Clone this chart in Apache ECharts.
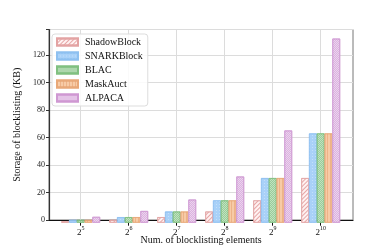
<!DOCTYPE html>
<html><head><meta charset="utf-8">
<script src="https://cdn.jsdelivr.net/npm/echarts@6/dist/echarts.min.js"></script>
<style>html,body{margin:0;padding:0;background:#fff}#c{width:392px;height:250px}</style>
</head><body><div id="c"></div>
<script>
const exponents = [5, 6, 7, 8, 9, 10];
const shadowBlock = [1, 2, 4, 8, 16, 32];
const snarkBlock = [2, 4, 8, 16, 32, 64];
const blac = [2, 4, 8, 16, 32, 64];
const maskAuct = [2, 4, 8, 16, 32, 64];
const alpaca = [4.2, 8.4, 16.6, 33.1, 66.1, 132];
const yTicks = [0, 20, 40, 60, 80, 100, 120];
const seriesNames = ['ShadowBlock', 'SNARKBlock', 'BLAC', 'MaskAuct', 'ALPACA'];
const seriesData = [shadowBlock, snarkBlock, blac, maskAuct, alpaca];

const FONT = 'Liberation Serif';
const YMAX = 138.5;
const TOP = 29.5, BOTTOM = 27.3;

const styles = [
  {color: '#fff2f2', borderColor: '#e3a3a3',
   decal: {symbol: 'rect', color: '#e6a6a6', dashArrayX: [1, 0], dashArrayY: [1, 2], rotation: -Math.PI / 4}},
  {color: '#a9d1f8', borderColor: '#8ec0f0',
   decal: {symbol: 'rect', color: 'rgba(255,255,255,0.3)', dashArrayX: [1, 1.5], dashArrayY: [1, 1.5], rotation: 0}},
  {color: '#bfe3bf', borderColor: '#80c080',
   decal: {symbol: 'rect', color: 'rgba(90,160,90,0.35)', dashArrayX: [[1, 1], [0, 1, 1, 0]], dashArrayY: [1, 0], rotation: 0}},
  {color: '#f7cba6', borderColor: '#e8a878',
   decal: {symbol: 'rect', color: 'rgba(225,150,100,0.45)', dashArrayX: [1, 1.5], dashArrayY: [1, 0], rotation: 0}},
  {color: '#ecd3ee', borderColor: '#cf98d2',
   decal: {symbol: 'rect', color: 'rgba(200,140,205,0.45)', dashArrayX: [[1, 1], [0, 1, 1, 0]], dashArrayY: [1, 0], rotation: 0}}
];

const chart = echarts.init(document.getElementById('c'), null, {renderer: 'canvas'});
const hidden = {show: false};
const option = {
  animation: false,
  backgroundColor: '#fff',
  grid: [
    {left: 49, right: 39, top: TOP, bottom: BOTTOM, show: true, borderColor: '#777', borderWidth: 1, z: 0},
    {left: 56.7, right: 47.3, top: TOP, bottom: BOTTOM},
    {left: 80.7, right: 71.3, top: TOP, bottom: BOTTOM}
  ],
  xAxis: [
    {gridIndex: 0, type: 'value', min: 0, max: 1, axisLine: {show: true, lineStyle: {color: '#111', width: 1.2}},
     axisTick: hidden, axisLabel: hidden, splitLine: hidden,
     name: 'Num. of blocklisting elements', nameLocation: 'middle', nameGap: 15,
     nameTextStyle: {fontFamily: FONT, fontSize: 10, color: '#111'}},
    {gridIndex: 1, type: 'category', data: exponents.map(String), axisLine: hidden,
     axisTick: {show: true, alignWithLabel: true, interval: 0, length: 3, lineStyle: {color: '#111'}},
     axisLabel: {interval: 0, margin: 3, formatter: v => '{b|2}{s|' + v + '}',
       rich: {b: {fontFamily: FONT, fontSize: 9, color: '#111', lineHeight: 11, verticalAlign: 'bottom'},
              s: {fontFamily: FONT, fontSize: 6, color: '#111', lineHeight: 11, verticalAlign: 'top'}}},
     splitLine: hidden},
    {gridIndex: 2, type: 'category', boundaryGap: false, data: exponents.map(String), axisLine: hidden,
     axisTick: hidden, axisLabel: hidden, splitLine: {show: true, interval: 0, lineStyle: {color: '#dcdcdc', width: 1}}}
  ],
  yAxis: [
    {gridIndex: 0, type: 'value', min: 0, max: YMAX, interval: 20,
     axisLine: {show: true, lineStyle: {color: '#333', width: 1.2}},
     axisTick: {show: true, length: 3, lineStyle: {color: '#333'}},
     axisLabel: {fontFamily: FONT, fontSize: 8, color: '#222', margin: 4,
       formatter: v => yTicks.includes(v) ? String(v) : ''},
     splitLine: {show: true, lineStyle: {color: '#dcdcdc', width: 1}},
     name: 'Storage of blocklisting (KB)', nameLocation: 'middle', nameGap: 19,
     nameTextStyle: {fontFamily: FONT, fontSize: 10, color: '#111'}},
    {gridIndex: 1, type: 'value', min: 0, max: YMAX, show: false, splitLine: hidden},
    {gridIndex: 2, type: 'value', min: 0, max: YMAX, show: false, splitLine: hidden}
  ],
  legend: {
    orient: 'vertical', left: 52, top: 34, padding: [3, 5, 3, 4],
    borderColor: '#dddddd', borderWidth: 1, borderRadius: 3, backgroundColor: 'rgba(255,255,255,0.85)',
    icon: 'rect', itemWidth: 21, itemHeight: 7, itemGap: 4,
    textStyle: {fontFamily: FONT, fontSize: 10, color: '#111', padding: [0, 0, 0, 2]},
    data: seriesNames
  },
  series: seriesNames.map((name, i) => ({
    name: name, type: 'bar', xAxisIndex: 1, yAxisIndex: 1,
    data: seriesData[i], barGap: '0%', barCategoryGap: '19%',
    itemStyle: {color: styles[i].color, borderColor: styles[i].borderColor, borderWidth: 0.7, decal: styles[i].decal},
    emphasis: {disabled: true}
  }))
};
chart.setOption(option);
</script></body></html>
